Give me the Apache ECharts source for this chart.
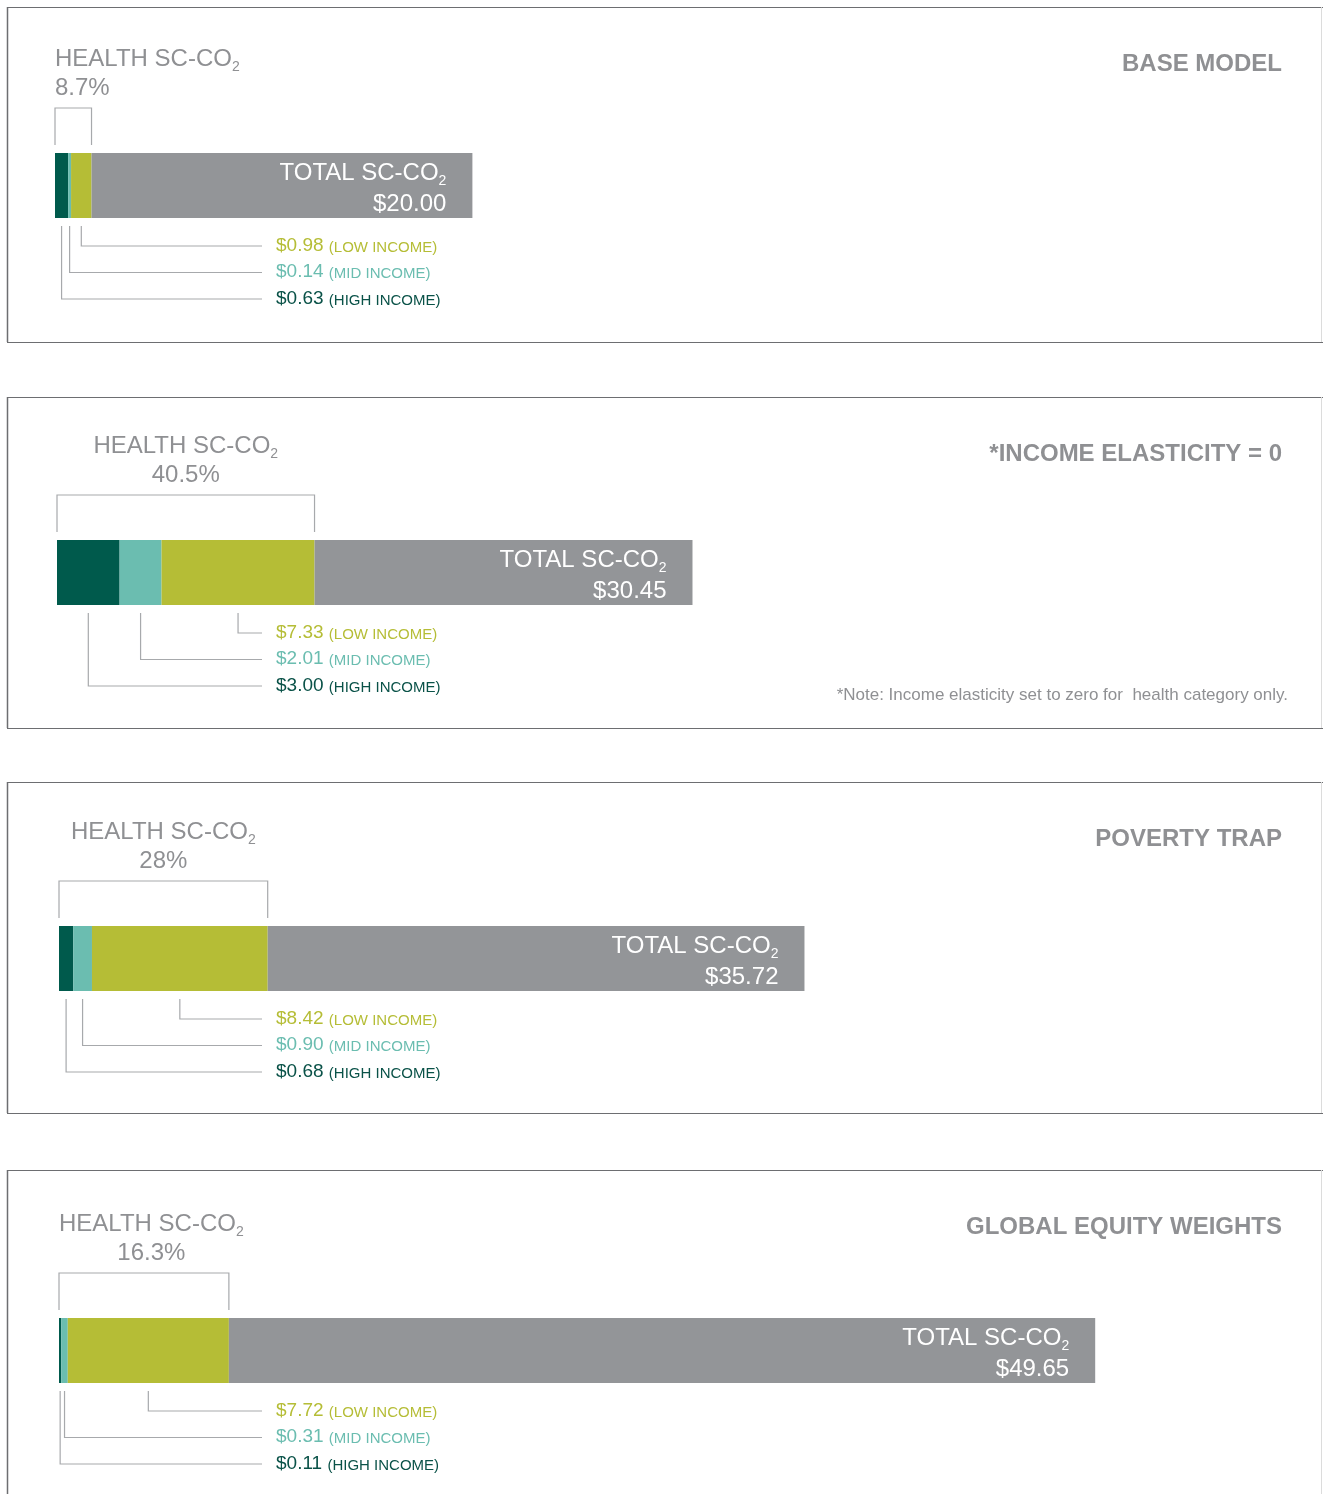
<!DOCTYPE html>
<html>
<head>
<meta charset="utf-8">
<script src="https://cdn.jsdelivr.net/npm/echarts@6/dist/echarts.min.js"></script>
<style>
  html, body { margin: 0; padding: 0; background: #fff; }
  #chart { width: 1323px; height: 1494px; }
</style>
</head>
<body>
<div id="chart"></div>
<script>
// data
const scenarios = ['BASE MODEL', '*INCOME ELASTICITY = 0', 'POVERTY TRAP', 'GLOBAL EQUITY WEIGHTS']
const highIncome = [0.63, 3.00, 0.68, 0.11]
const midIncome = [0.14, 2.01, 0.90, 0.31]
const lowIncome = [0.98, 7.33, 8.42, 7.72]
const totalScc = [20.00, 30.45, 35.72, 49.65]
const healthShare = ['8.7%', '40.5%', '28%', '16.3%']
const noteText = '*Note: Income elasticity set to zero for  health category only.'

const FONT = '"Liberation Sans", Arial, Helvetica, sans-serif'
const GRAY_TEXT = '#8f9093'
const LINE = '#a7a9ac'
const colors = { high: '#005a4c', mid: '#6bbdb0', low: '#b5bd36', rest: '#939598' }

// layout of the four boxes
const panels = [
  { top: 7, bottom: 342, barTop: 153, left: 55 },
  { top: 397, bottom: 728, barTop: 540, left: 57 },
  { top: 782, bottom: 1113, barTop: 926, left: 59 },
  { top: 1170, bottom: null, barTop: 1318, left: 59 }
]
const PX_PER_DOLLAR = 20.87
const AXIS_MAX = 55
const BAR_H = 65

const chart = echarts.init(document.getElementById('chart'))

const grid = panels.map(p => ({
  left: p.left, top: p.barTop, width: AXIS_MAX * PX_PER_DOLLAR, height: BAR_H
}))
const xAxis = panels.map((p, i) => ({ type: 'value', gridIndex: i, min: 0, max: AXIS_MAX, show: false }))
const yAxis = panels.map((p, i) => ({ type: 'category', gridIndex: i, data: [scenarios[i]], show: false }))

const series = []
panels.forEach((p, i) => {
  const rest = +(totalScc[i] - highIncome[i] - midIncome[i] - lowIncome[i]).toFixed(2)
  const parts = [
    { name: 'High income', value: highIncome[i], color: colors.high },
    { name: 'Mid income', value: midIncome[i], color: colors.mid },
    { name: 'Low income', value: lowIncome[i], color: colors.low },
    { name: 'Other', value: rest, color: colors.rest }
  ]
  parts.forEach((s, k) => {
    series.push({
      type: 'bar',
      name: s.name,
      xAxisIndex: i,
      yAxisIndex: i,
      stack: 'p' + i,
      barWidth: BAR_H,
      silent: true,
      data: [s.value],
      itemStyle: { color: s.color },
      label: k === 3 ? {
        show: true,
        position: 'insideRight',
        distance: 26,
        offset: [0, 3],
        formatter: () => '{m|TOTAL SC-CO}{s|2}\n{m|$' + totalScc[i].toFixed(2) + '}',
        rich: {
          m: { fontSize: 24, color: '#fff', lineHeight: 31, fontFamily: FONT },
          s: { fontSize: 14, color: '#fff', lineHeight: 10, verticalAlign: 'bottom', fontFamily: FONT }
        }
      } : { show: false }
    })
  })
})

chart.setOption({
  animation: false,
  grid, xAxis, yAxis, series
})

// measure text for placing the health title
const ctx = document.createElement('canvas').getContext('2d')
const textWidth = (txt, size, weight) => {
  ctx.font = (weight || 'normal') + ' ' + size + 'px ' + FONT
  return ctx.measureText(txt).width
}

const graphic = []
const line = (points, color, width) => graphic.push({
  type: 'polyline', silent: true,
  shape: { points },
  style: { stroke: color || LINE, lineWidth: width || 1.2, fill: null }
})
const text = (x, y, style) => graphic.push({
  type: 'text', silent: true, x, y,
  style: Object.assign({ fontFamily: FONT, verticalAlign: 'middle' }, style)
})

const incomeRows = [
  { vals: lowIncome, tag: '(LOW INCOME)', color: colors.low, seg: 2 },
  { vals: midIncome, tag: '(MID INCOME)', color: colors.mid, seg: 1 },
  { vals: highIncome, tag: '(HIGH INCOME)', color: '#0a5248', seg: 0 }
]

panels.forEach((p, i) => {
  // box
  const bottom = p.bottom === null ? 1510 : p.bottom
  line([[7.5, p.top], [7.5, bottom]], '#6d6e71', 1.5)
  line([[7, p.top + 0.5], [1323, p.top + 0.5]], '#6d6e71', 1.2)
  if (p.bottom !== null) line([[7, bottom + 0.5], [1323, bottom + 0.5]], '#6d6e71', 1.2)
  line([[1321.5, p.top], [1321.5, bottom]], '#dcdcdc', 1)

  const px = v => chart.convertToPixel({ xAxisIndex: i }, v)
  const cy = chart.convertToPixel({ yAxisIndex: i }, 0)
  const barTop = cy - BAR_H / 2
  const barBottom = cy + BAR_H / 2

  // scenario name, top right
  text(1282, p.top + 57, {
    text: scenarios[i], align: 'right', fontSize: 24, fontWeight: 'bold', fill: GRAY_TEXT
  })

  // bracket over the health part
  const health = highIncome[i] + midIncome[i] + lowIncome[i]
  const hx0 = px(0)
  const hx1 = px(health)
  line([[hx0, barTop - 8], [hx0, barTop - 45], [hx1, barTop - 45], [hx1, barTop - 8]])

  const tw = textWidth('HEALTH SC-CO', 24) + textWidth('2', 14)
  const tx = Math.max(hx0, (hx0 + hx1) / 2 - tw / 2)
  text(tx, barTop - 94, {
    text: '{m|HEALTH SC-CO}{s|2}', align: 'left',
    rich: {
      m: { fontSize: 24, fill: GRAY_TEXT, lineHeight: 31, fontFamily: FONT },
      s: { fontSize: 14, fill: GRAY_TEXT, lineHeight: 10, verticalAlign: 'bottom', fontFamily: FONT }
    }
  })
  const narrow = hx1 - hx0 < 50
  text(narrow ? hx0 : tx + tw / 2, barTop - 65, {
    text: healthShare[i], align: narrow ? 'left' : 'center', fontSize: 24, fill: GRAY_TEXT
  })

  // leader lines and income labels
  const starts = [0, highIncome[i], highIncome[i] + midIncome[i]]
  incomeRows.forEach((r, k) => {
    const rowY = barBottom + 28 + k * 26.5
    const cx = px(starts[r.seg] + r.vals[i] / 2)
    line([[cx, barBottom + 8], [cx, rowY], [262, rowY]])
    text(276, rowY - 2, {
      text: '{v|$' + r.vals[i].toFixed(2) + '}{g| }{t|' + r.tag + '}',
      align: 'left',
      rich: {
        v: { fontSize: 19, fill: r.color, lineHeight: 22, verticalAlign: 'bottom', fontFamily: FONT },
        g: { fontSize: 19, lineHeight: 22, verticalAlign: 'bottom', fontFamily: FONT },
        t: { fontSize: 15, fill: r.color, lineHeight: 18, verticalAlign: 'bottom', fontFamily: FONT }
      }
    })
  })

  if (i === 1) {
    text(1288, barBottom + 90, { text: noteText, align: 'right', fontSize: 17, fill: GRAY_TEXT })
  }
})

chart.setOption({ graphic })
</script>
</body>
</html>
